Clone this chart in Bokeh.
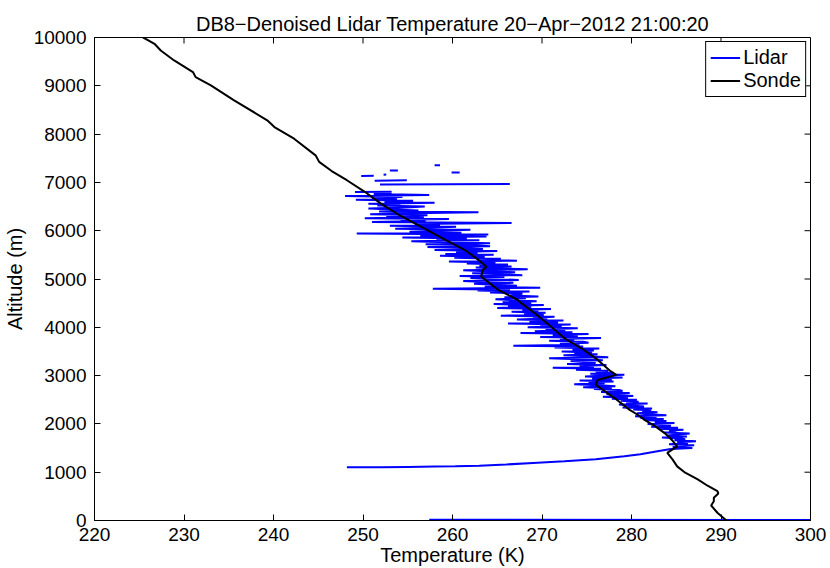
import numpy as np
from bokeh.plotting import figure
from bokeh.models import FixedTicker, Range1d, Legend, LegendItem
from bokeh.embed import file_html
from bokeh.resources import INLINE

nan = float("nan")

# Sonde profile (temperature K, altitude m)
sonde_temp = [290.6, 289.6, 288.9, 289.2, 289.2, 289.7, 289.6, 288.5, 287.4, 286.0,
              285.1, 284.6, 284.0, 285.1, 284.6, 283.7, 282.6, 281.4, 280.6, 279.8,
              278.1, 276.0, 276.2, 278.3, 277.6, 276.2, 274.6, 272.5, 271.0, 269.2,
              267.7, 267.3, 265.1, 263.2, 263.4, 263.8, 262.9, 261.4, 259.0, 256.9,
              254.0, 252.0, 250.2, 248.2, 246.5, 245.1, 244.7, 242.3, 240.1, 239.3,
              235.6, 233.0, 231.3, 231.0, 228.9, 227.4, 226.7, 225.4]
sonde_alt = [0, 160, 310, 400, 470, 560, 610, 720, 850, 990,
             1120, 1260, 1400, 1535, 1650, 1810, 1960, 2090, 2200, 2290,
             2535, 2810, 2910, 3015, 3100, 3330, 3540, 3775, 4015, 4290,
             4500, 4565, 4775, 5050, 5185, 5255, 5395, 5600, 5830, 6045,
             6330, 6560, 6805, 7045, 7235, 7425, 7560, 7905, 8145, 8285,
             8700, 9010, 9180, 9285, 9525, 9730, 9870, 10005]

# Lidar: near-ground return and the low-altitude overlap curve
lidar_low_temp = [257.4, 305.0, nan,
                  248.2, 252.0, 255.0, 258.0, 260.3, 263.0, 266.0, 269.0, 272.5,
                  276.0, 279.2, 281.0, 282.9, 284.4]
lidar_low_alt = [15, 12, nan,
                 1102, 1105, 1110, 1116, 1122, 1135, 1160, 1190, 1225,
                 1270, 1329, 1370, 1432, 1480]

# Lidar noisy profile, 20 m gates from 1500 m to 6780 m
lidar_gate_alt = [
    1500, 1520, 1540, 1560, 1580, 1600, 1620, 1640, 1660, 1680,
    1700, 1720, 1740, 1760, 1780, 1800, 1820, 1840, 1860, 1880,
    1900, 1920, 1940, 1960, 1980, 2000, 2020, 2040, 2060, 2080,
    2100, 2120, 2140, 2160, 2180, 2200, 2220, 2240, 2260, 2280,
    2300, 2320, 2340, 2360, 2380, 2400, 2420, 2440, 2460, 2480,
    2500, 2520, 2540, 2560, 2580, 2600, 2620, 2640, 2660, 2680,
    2700, 2720, 2740, 2760, 2780, 2800, 2820, 2840, 2860, 2880,
    2900, 2920, 2940, 2960, 2980, 3000, 3020, 3040, 3060, 3080,
    3100, 3120, 3140, 3160, 3180, 3200, 3220, 3240, 3260, 3280,
    3300, 3320, 3340, 3360, 3380, 3400, 3420, 3440, 3460, 3480,
    3500, 3520, 3540, 3560, 3580, 3600, 3620, 3640, 3660, 3680,
    3700, 3720, 3740, 3760, 3780, 3800, 3820, 3840, 3860, 3880,
    3900, 3920, 3940, 3960, 3980, 4000, 4020, 4040, 4060, 4080,
    4100, 4120, 4140, 4160, 4180, 4200, 4220, 4240, 4260, 4280,
    4300, 4320, 4340, 4360, 4380, 4400, 4420, 4440, 4460, 4480,
    4500, 4520, 4540, 4560, 4580, 4600, 4620, 4640, 4660, 4680,
    4700, 4720, 4740, 4760, 4780, 4800, 4820, 4840, 4860, 4880,
    4900, 4920, 4940, 4960, 4980, 5000, 5020, 5040, 5060, 5080,
    5100, 5120, 5140, 5160, 5180, 5200, 5220, 5240, 5260, 5280,
    5300, 5320, 5340, 5360, 5380, 5400, 5420, 5440, 5460, 5480,
    5500, 5520, 5540, 5560, 5580, 5600, 5620, 5640, 5660, 5680,
    5700, 5720, 5740, 5760, 5780, 5800, 5820, 5840, 5860, 5880,
    5900, 5920, 5940, 5960, 5980, 6000, 6020, 6040, 6060, 6080,
    6100, 6120, 6140, 6160, 6180, 6200, 6220, 6240, 6260, 6280,
    6300, 6320, 6340, 6360, 6380, 6400, 6420, 6440, 6460, 6480,
    6500, 6520, 6540, 6560, 6580, 6600, 6620, 6640, 6660, 6680,
    6700, 6720, 6740, 6760, 6780]
lidar_gate_temp = [
    286.8, 284.6, 285.9, 287.0, 284.2, 286.3, 285.1, 287.2, 284.8, 286.0,
    285.6, 283.4, 286.2, 284.0, 285.3, 286.5, 283.6, 285.0, 284.2, 285.8,
    283.0, 285.2, 282.2, 284.4, 283.4, 281.8, 284.8, 282.6, 283.9, 281.4,
    283.6, 281.0, 282.8, 280.4, 283.9, 281.8, 280.6, 282.9, 281.2, 282.2,
    280.2, 282.3, 279.0, 281.4, 279.8, 278.6, 281.8, 279.4, 280.8, 278.8,
    280.6, 277.8, 279.6, 276.8, 280.2, 278.4, 277.2, 279.8, 276.6, 279.0,
    278.6, 275.8, 277.8, 274.6, 278.2, 276.4, 273.6, 277.0, 275.2, 278.0,
    274.2, 277.8, 275.6, 279.0, 274.8, 277.2, 279.2, 275.4, 278.0, 276.0,
    277.4, 273.8, 276.6, 271.2, 275.8, 274.2, 277.2, 272.8, 276.0, 274.6,
    273.2, 276.8, 274.0, 270.8, 277.4, 275.0, 272.4, 276.2, 273.6, 275.6,
    272.2, 275.8, 273.4, 276.4, 271.4, 274.6, 266.8, 274.2, 272.0, 275.2,
    274.6, 270.8, 273.6, 272.0, 276.6, 269.8, 274.0, 271.2, 275.2, 267.6,
    273.4, 269.2, 272.6, 270.4, 274.0, 268.4, 272.2, 269.8, 273.2, 266.2,
    271.8, 268.6, 272.4, 267.2, 270.6, 269.0, 271.4, 265.4, 270.2, 268.0,
    270.4, 266.6, 269.6, 267.8, 271.0, 265.0, 268.8, 266.2, 270.2, 264.6,
    268.8, 265.6, 269.4, 266.8, 264.8, 268.2, 265.8, 269.6, 266.4, 267.6,
    267.8, 264.2, 268.6, 262.8, 266.4, 257.8, 269.8, 263.6, 267.2, 264.8,
    262.4, 266.8, 263.6, 261.2, 267.4, 264.0, 262.0, 265.8, 260.8, 267.8,
    265.6, 262.2, 267.0, 263.8, 261.2, 268.4, 264.4, 262.6, 266.6, 263.0,
    266.2, 261.6, 264.8, 259.6, 267.2, 262.8, 265.4, 260.2, 263.6, 258.6,
    264.6, 259.2, 262.8, 260.4, 265.0, 258.0, 263.4, 261.0, 257.2, 264.2,
    262.4, 257.0, 264.2, 259.4, 255.4, 263.0, 258.2, 261.6, 254.4, 263.8,
    256.4, 264.0, 249.3, 261.0, 255.2, 258.8, 262.0, 253.6, 257.6, 260.4,
    253.0, 258.6, 255.8, 266.6, 251.0, 257.0, 254.2, 259.6, 250.2, 256.8,
    252.6, 257.2, 250.8, 255.6, 262.9, 251.8, 256.2, 253.4, 250.6, 254.8,
    256.9, 251.6, 254.2, 250.6, 258.0, 252.4, 255.6, 249.2, 253.8, 251.0,
    254.4, 248.0, 257.4, 251.2, 253.2]

# Lidar: isolated upper fragments (NaN separated)
lidar_top_temp = [nan, 249.1, 253.2, nan, 251.9, 266.4, nan, 251.3, 254.9, nan,
                  249.8, 251.2, nan, 252.3, 252.6, nan, 259.9, 260.8, nan,
                  253.0, 253.9, nan, 258.0, 258.6]
lidar_top_alt = [nan, 6800, 6808, nan, 6958, 6966, nan, 7035, 7045, nan,
                 7132, 7138, nan, 7160, 7165, nan, 7203, 7207, nan,
                 7244, 7248, nan, 7353, 7357]

x_ticks = [220, 230, 240, 250, 260, 270, 280, 290, 300]
y_ticks = [0, 1000, 2000, 3000, 4000, 5000, 6000, 7000, 8000, 9000, 10000]

FONT = "Liberation Sans"
X0, X1, Y0, Y1 = 220, 300, 0, 10000

p = figure(width=830, height=568, output_backend="svg", toolbar_location=None,
           x_range=Range1d(X0, X1), y_range=Range1d(Y0, Y1),
           min_border_left=92, min_border_right=20, min_border_top=37,
           min_border_bottom=47,
           title="DB8\u2212Denoised Lidar Temperature 20\u2212Apr\u22122012 21:00:20")
p.title.align = "center"
p.title.vertical_align = "top"
p.title.text_font = FONT
p.title.text_font_size = "20px"
p.title.text_font_style = "normal"
p.title.text_color = "black"
p.title.standoff = 2

p.grid.visible = False
p.outline_line_color = "black"
p.outline_line_alpha = 1.0
p.background_fill_color = "white"
p.border_fill_color = "white"

lidar_t = np.array(lidar_low_temp + lidar_gate_temp + lidar_top_temp, dtype=float)
lidar_a = np.array(lidar_low_alt + lidar_gate_alt + lidar_top_alt, dtype=float)
lidar_r = p.line(lidar_t, lidar_a, line_color="#0000ff", line_width=2)
sonde_r = p.line(sonde_temp, sonde_alt, line_color="black", line_width=2)

# inward ticks on the top and right edges (MATLAB box style)
tick_len_y = 6 * (Y1 - Y0) / 484.0
tick_len_x = 6 * (X1 - X0) / 718.0
p.segment(x0=x_ticks, y0=[Y1] * len(x_ticks), x1=x_ticks,
          y1=[Y1 - tick_len_y] * len(x_ticks), line_color="black", line_width=1)
p.segment(x0=[X1] * len(y_ticks), y0=y_ticks, x1=[X1 - tick_len_x] * len(y_ticks),
          y1=y_ticks, line_color="black", line_width=1)

def style(ax, ticks):
    ax.ticker = FixedTicker(ticks=ticks)
    ax.major_tick_in = 6
    ax.major_tick_out = 0
    ax.minor_tick_line_color = None
    ax.axis_line_color = "black"
    ax.major_tick_line_color = "black"
    ax.major_label_text_font = FONT
    ax.major_label_text_font_size = "19px"
    ax.major_label_text_color = "black"
    ax.axis_label_text_font = FONT
    ax.axis_label_text_font_size = "20px"
    ax.axis_label_text_font_style = "normal"
    ax.axis_label_text_color = "black"

style(p.xaxis[0], x_ticks)
style(p.yaxis[0], y_ticks)
p.xaxis[0].axis_label = "Temperature (K)"
p.yaxis[0].axis_label = "Altitude (m)"
p.xaxis[0].major_label_standoff = 7
p.xaxis[0].axis_label_standoff = 0
p.yaxis[0].major_label_standoff = 8
p.yaxis[0].axis_label_standoff = 5

legend = Legend(items=[LegendItem(label="Lidar", renderers=[lidar_r]),
                       LegendItem(label="Sonde", renderers=[sonde_r])],
                location="top_right")
legend.label_text_font = FONT
legend.label_text_font_size = "20px"
legend.label_text_color = "black"
legend.border_line_color = "black"
legend.border_line_alpha = 1.0
legend.background_fill_color = "white"
legend.background_fill_alpha = 1.0
legend.glyph_width = 30
legend.glyph_height = 21
legend.label_standoff = 3
legend.label_height = 21
legend.padding = 4
legend.spacing = 0
legend.margin = 4
p.add_layout(legend)

open("out.html", "w").write(file_html(p, INLINE))
